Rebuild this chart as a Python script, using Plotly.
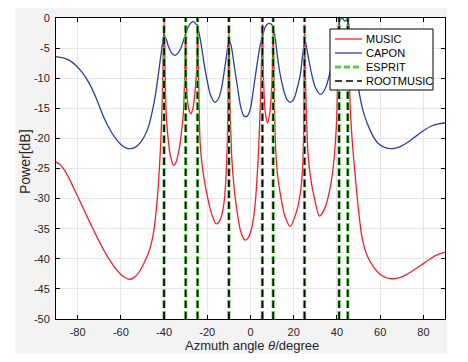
import plotly.graph_objects as go

# ---------------- data ----------------
music_theta = [-90, -88, -86, -84, -82, -80, -77, -74, -71, -68, -65, -62, -59, -56, -53.5, -51, -49, -47.5, -46, -44.8, -43.5, -42.5, -41.5, -40.8, -40,
               -39.5, -39, -38, -37, -35.6, -34.5, -33, -31.8, -31, -30.5, -30,
               -29.5, -28.5, -27.6, -26.5, -25.5, -24.9, -24.5,
               -24, -23.3, -22, -20.2, -18, -15.9, -14, -12.5, -11.7, -10.8, -10.4, -10,
               -9.6, -8.6, -7.5, -6.3, -4.5, -2.5, -1, 0.5, 2, 3.3, 4.3, 5, 5.5,
               6, 6.8, 7.9, 9, 10, 10.5,
               11, 11.6, 12.5, 13.8, 16, 18.4, 21, 23, 24, 24.6, 25,
               25.5, 26.6, 28, 29.4, 31.9, 34.5, 36.9, 38.5, 39.7, 40.4, 41,
               41.7, 43, 44.2, 45,
               45.6, 46.2, 47.3, 48.5, 50, 51.6, 54, 57, 60, 64.7, 70, 75.5, 80, 83.2, 86, 90]
music_db = [-23.9, -24.4, -25.3, -26.6, -28.1, -29.6, -31.9, -34.2, -36.4, -38.5, -40.3, -41.8, -42.9, -43.4, -43.0, -41.9, -40.5, -39.3, -37.6, -35.5, -31.5, -27.0, -20.5, -13.0, -0.5,
            -9.0, -16.0, -20.5, -23.0, -24.5, -24.0, -21.8, -18.5, -15.5, -10.0, -2.0,
            -12.3, -15.2, -15.9, -14.8, -11.5, -8.5, -1.0,
            -10.0, -20.8, -25.5, -29.2, -32.5, -34.2, -33.5, -31.3, -28.5, -21.5, -13.0, -1.5,
            -12.0, -23.6, -28.5, -31.9, -35.5, -36.9, -36.5, -35.0, -31.5, -25.0, -17.0, -9.0, -1.0,
            -10.0, -15.5, -17.4, -15.5, -10.0, -2.0,
            -12.0, -21.5, -26.0, -29.2, -33.0, -34.6, -32.5, -29.2, -25.5, -19.5, -1.0,
            -11.0, -22.5, -27.0, -29.6, -32.9, -31.5, -28.1, -24.0, -18.1, -10.0, 0.0,
            -6.0, -8.0, -6.0, 0.0,
            -8.0, -15.3, -21.5, -26.4, -32.0, -36.4, -39.5, -41.4, -42.6, -43.3, -43.0, -41.9, -40.8, -40.0, -39.4, -38.9]

capon_theta = [-90, -87, -84, -81, -78, -75, -72, -70, -68, -66, -63, -60, -57.5, -55.5, -53, -51, -49, -47, -45.5, -44, -42.5, -41.2, -40,
               -39, -38, -36.5, -35, -33.5, -32, -30.2, -29, -27.5, -26.5, -25.5, -24.5,
               -23, -21.5, -20, -18.5, -16.5, -15, -13.5, -12, -11, -10,
               -9, -7.5, -6, -4.5, -3, -1.5, 0, 1.5, 3, 4.5, 5.7, 7, 8.5, 9.5, 10.4,
               11.5, 12.5, 13.8, 15.5, 17, 18.4, 20, 21.5, 23, 24, 25.2,
               26.5, 28.4, 30, 32.3, 34.5, 36.9, 38.5, 40.3, 41.5, 42.5, 43.5, 44.9,
               46, 47.5, 49, 50.5, 52, 54, 56.5, 59, 62, 65.5, 69, 73, 77, 80.5, 84, 87, 90]
capon_db = [-6.4, -6.6, -7.0, -7.8, -9.0, -10.6, -12.8, -14.6, -16.4, -17.9, -19.7, -21.0, -21.6, -21.7, -21.4, -20.7, -19.6, -17.8, -15.6, -12.8, -9.0, -5.5, -2.9,
            -3.5, -4.7, -5.8, -6.2, -5.8, -4.8, -2.8, -1.6, -0.8, -0.6, -0.9, -1.5,
            -4.0, -7.5, -10.5, -12.8, -14.0, -13.5, -11.8, -8.5, -6.0, -3.7,
            -4.5, -8.0, -11.5, -14.8, -16.3, -16.3, -15.0, -11.5, -7.8, -4.5, -2.8, -1.4, -0.9, -1.0, -1.4,
            -3.5, -6.5, -9.5, -12.2, -13.6, -14.0, -13.5, -11.8, -9.5, -6.5, -3.7,
            -6.0, -9.5, -11.5, -12.7, -11.8, -8.9, -6.0, -2.3, -0.3, 0.0, -0.5, -0.3,
            -2.5, -6.0, -9.5, -12.8, -15.3, -17.5, -19.5, -20.8, -21.5, -21.7, -21.4, -20.6, -19.5, -18.6, -17.9, -17.6, -17.4]

# estimated directions (ESPRIT and ROOT-MUSIC give the same angles)
esprit_theta = [-40, -30, -24.5, -10, 5.5, 10.5, 25, 41, 45]
rootmusic_theta = [-40, -30, -24.5, -10, 5.5, 10.5, 25, 41, 45]

series_names = ["MUSIC", "CAPON", "ESPRIT", "ROOTMUSIC"]
x_ticks = [-80, -60, -40, -20, 0, 20, 40, 60, 80]
y_ticks = [0, -5, -10, -15, -20, -25, -30, -35, -40, -45, -50]
x_range = [-90, 90]
y_range = [-50, 0]

# ---------------- styles ----------------
RED = "#f0202a"
BLUE = "#2a3f9a"
GREEN = "#5fc64f"
BLACK = "#000000"
FONT = "Liberation Sans, Arial, sans-serif"
TXT = "#262626"


def vlines(angles):
    xs, ys = [], []
    for a in angles:
        xs += [a, a, None]
        ys += [y_range[0], y_range[1], None]
    return xs, ys


fig = go.Figure()
fig.add_trace(go.Scatter(x=music_theta, y=music_db, mode="lines", name=series_names[0],
                         line=dict(color=RED, width=1.3, shape="spline", smoothing=0.8)))
fig.add_trace(go.Scatter(x=capon_theta, y=capon_db, mode="lines", name=series_names[1],
                         line=dict(color=BLUE, width=1.3, shape="spline", smoothing=0.8)))
ex, ey = vlines(esprit_theta)
fig.add_trace(go.Scatter(x=ex, y=ey, mode="lines", name=series_names[2],
                         line=dict(color=GREEN, width=3.2, dash="8px,3px")))
rx, ry = vlines(rootmusic_theta)
fig.add_trace(go.Scatter(x=rx, y=ry, mode="lines", name=series_names[3],
                         line=dict(color=BLACK, width=1.6, dash="7px,4px")))

# page geometry (the page body has an 8px margin)
OFF = 8
PX0, PX1 = 56, 445        # plot-area left/right in page pixels
PY1, PY0 = 18, 319        # plot-area top/bottom in page pixels
W, H = 452, 346           # figure size (fits inside the window with the body margin)
L = PX0 - OFF
T = PY1 - OFF
R = W + OFF - PX1
B = H + OFF - PY0


def xp(px):
    return (px - PX0) / (PX1 - PX0)


def yp(py):
    return (PY0 - py) / (PY0 - PY1)


shapes = []
# light grey figure background with a hole for the axes
gx0, gx1, gy0, gy1 = xp(15), xp(447), yp(5), yp(357)
shapes.append(dict(type="path", xref="paper", yref="paper", layer="below",
                   path=(f"M {gx0},{gy0} L {gx1},{gy0} L {gx1},{gy1} L {gx0},{gy1} Z "
                         f"M 0,0 L 0,1 L 1,1 L 1,0 Z"),
                   fillcolor="#f3f3f3", line=dict(width=0)))

# manual MATLAB-like legend
shapes.append(dict(type="rect", xref="paper", yref="paper", layer="above",
                   x0=xp(330), x1=xp(433), y0=yp(90), y1=yp(29),
                   fillcolor="white", line=dict(color="black", width=1)))
rows = [39, 53, 67, 81]
leg_styles = [dict(color=RED, width=1.3), dict(color=BLUE, width=1.3),
              dict(color=GREEN, width=3, dash="6px,3px"), dict(color=BLACK, width=1.4, dash="7px,4px")]
annotations = []
for name, ry_, st in zip(series_names, rows, leg_styles):
    shapes.append(dict(type="line", xref="paper", yref="paper", layer="above",
                       x0=xp(335), x1=xp(362), y0=yp(ry_), y1=yp(ry_), line=st))
    annotations.append(dict(xref="paper", yref="paper", x=xp(364), y=yp(ry_), text=name,
                            showarrow=False, xanchor="left", yanchor="middle",
                            font=dict(family=FONT, size=11, color="#000000")))

# axis titles
annotations.append(dict(xref="paper", yref="paper", x=xp(252), y=yp(345.5),
                        text="Azmuth angle <i>θ</i>/degree", showarrow=False,
                        xanchor="center", yanchor="middle",
                        font=dict(family=FONT, size=13, color=TXT)))
annotations.append(dict(xref="paper", yref="paper", x=xp(25), y=yp(162),
                        text="Power[dB]", showarrow=False, textangle=-90,
                        xanchor="center", yanchor="middle",
                        font=dict(family=FONT, size=14, color=TXT)))

axis_common = dict(showline=True, linecolor="black", linewidth=1, mirror="allticks",
                   ticks="inside", ticklen=4, tickcolor="black",
                   showgrid=True, gridcolor="#e6e6e6", gridwidth=1, zeroline=False,
                   tickfont=dict(family=FONT, size=11, color=TXT))

fig.update_layout(
    width=W, height=H,
    margin=dict(l=L, r=R, t=T, b=B, pad=0, autoexpand=False),
    paper_bgcolor="white", plot_bgcolor="white",
    showlegend=False,
    shapes=shapes, annotations=annotations,
    xaxis=dict(range=x_range, tickvals=x_ticks, ticktext=[str(v) for v in x_ticks],
               ticklabelstandoff=3, **axis_common),
    yaxis=dict(range=y_range, tickvals=y_ticks, ticktext=[str(v) for v in y_ticks],
               ticklabelstandoff=3, **axis_common),
)

fig.write_html("out.html")
